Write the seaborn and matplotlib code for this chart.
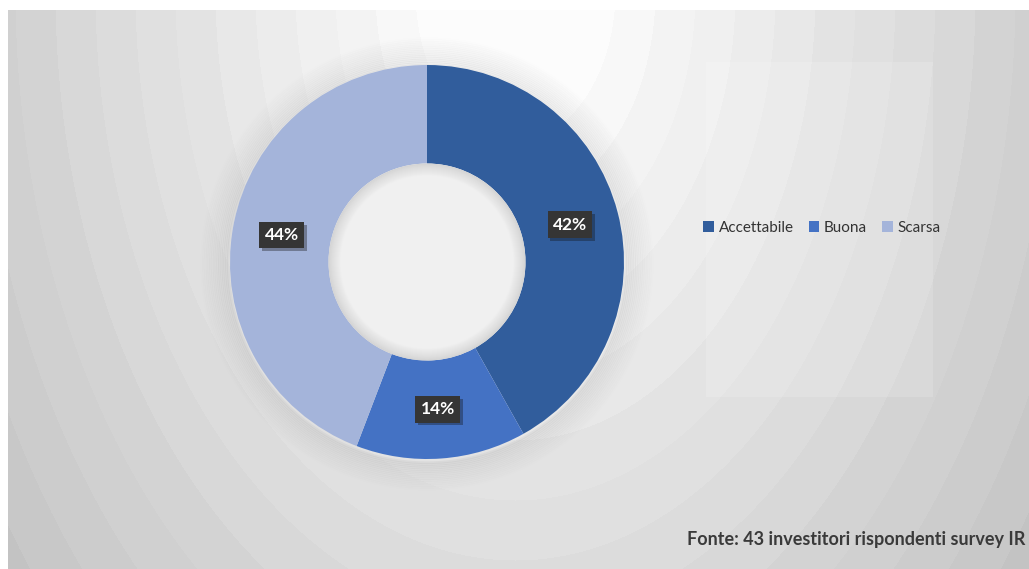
import numpy as np
import seaborn as sns
import matplotlib.pyplot as plt
import matplotlib.patheffects as pe
from matplotlib.patches import Circle, Rectangle

# survey answers (43 investors)
categories = ["Accettabile", "Buona", "Scarsa"]
counts = [18, 6, 19]
pct_labels = ["42%", "14%", "44%"]
source_note = "Fonte: 43 investitori rispondenti survey IR"

sns.set_theme(style="white")
plt.rcParams['font.family'] = ['Lato', 'DejaVu Sans']
colors = sns.color_palette(["#315D9C", "#4472C4", "#A4B4DA"])

W, H = 1029, 569
fig = plt.figure(figsize=(W / 100, H / 100), dpi=100)
fig.patch.set_facecolor("white")

# banded radial background
bg = fig.add_axes([8 / W, 0, 1 - 8 / W, 1 - 10 / H], zorder=0)
yy, xx = np.mgrid[10:H, 8:W]
r = np.sqrt((xx - 515.0) ** 2 + ((yy + 10.0) / 1.5) ** 2)
grey = 262 - 0.1 * r
grey = np.clip(np.floor(grey / 4) * 4, 196, 252) / 255
bg.imshow(grey, cmap="gray", vmin=0, vmax=1, aspect="auto", interpolation="nearest")
bg.add_patch(Rectangle((705 - 8, 61 - 10), 227, 335, fc="white", alpha=0.15, ec="none"))
bg.set_axis_off()

# donut axes, centre at (427, 262) px, outer radius ~197 px
R = 197
span = 1.35
ax = fig.add_axes([(427 - R * span) / W, (H - 262 - R * span) / H,
                   2 * R * span / W, 2 * R * span / H], zorder=1)

# soft shadow around ring
for k in range(16):
    rad = 1.0 + 0.009 * (k + 1)
    ax.add_patch(Circle((0, -0.01), rad, fc="none", ec="#707070",
                        lw=2.0, alpha=0.08 * (1 - k / 16)))

wedges, _ = ax.pie(counts, colors=colors, startangle=90, counterclock=False,
                   radius=1.0, wedgeprops=dict(width=0.5, edgecolor="none"))
ax.set_xlim(-span, span)
ax.set_ylim(-span, span)
ax.set_axis_off()

# hole with inner shading
ax.add_patch(Circle((0, 0), 0.5, fc="#d4d4d4", ec="none", zorder=3))
for k in range(12):
    g = 0.84 + 0.1 * (k + 1) / 12
    ax.add_patch(Circle((0, 0), 0.495 - 0.005 * k, fc=(g, g, g), ec="none", zorder=3))

# percentage labels in dark boxes
for w, lab in zip(wedges, pct_labels):
    ang = np.deg2rad((w.theta1 + w.theta2) / 2)
    x, y = 0.75 * np.cos(ang), 0.75 * np.sin(ang)
    t = ax.text(x, y, lab, ha="center", va="center", color="white",
                fontsize=12.5, fontweight="bold", zorder=5,
                bbox=dict(boxstyle="square,pad=0.3", fc="#353535", ec="none"))
    t.get_bbox_patch().set_path_effects([pe.withSimplePatchShadow(offset=(2, -2), alpha=0.35)])

leg = fig.legend(wedges, categories, loc="center", bbox_to_anchor=(822 / W, 1 - 228 / H),
                 ncol=3, frameon=False, fontsize=11, handlelength=0.7, handleheight=0.7,
                 handletextpad=0.3, columnspacing=1.0, labelcolor="#333333")

fig.text(1025 / W, 1 - 540 / H, source_note, ha="right", va="center",
         fontsize=13, fontweight="bold", color="#3a3a3a")

fig.savefig("out.png", dpi=100)
